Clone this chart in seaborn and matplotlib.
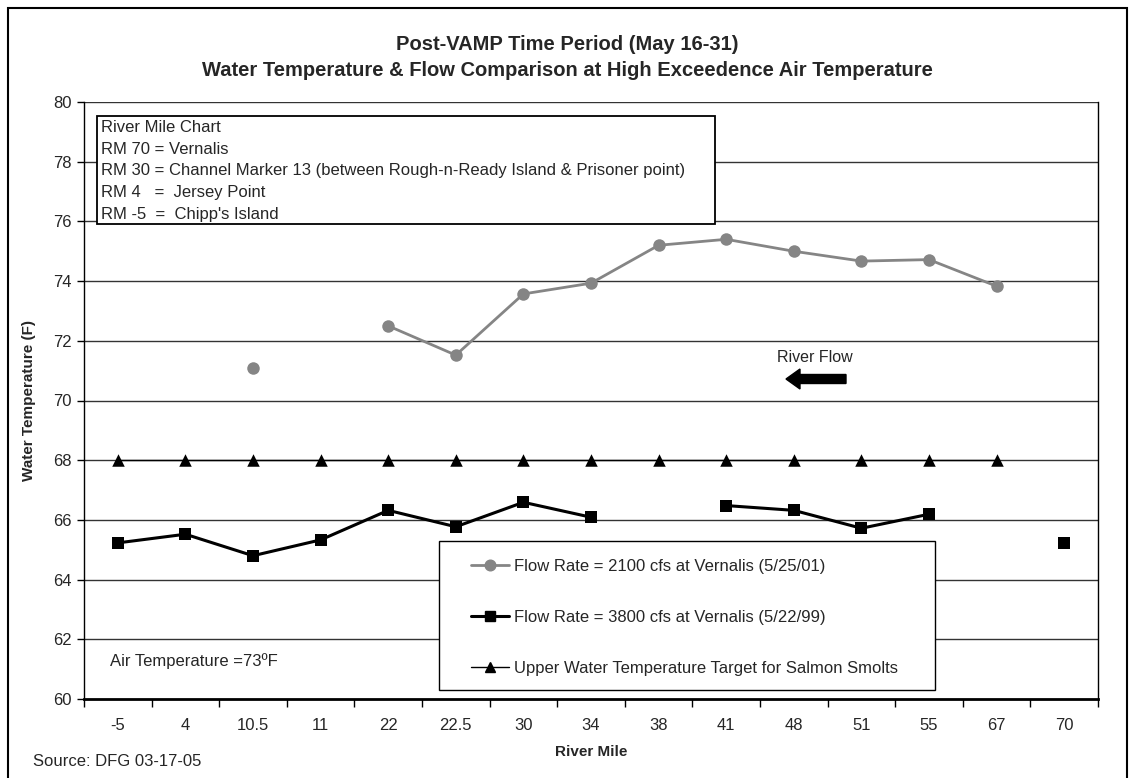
import numpy as np
import pandas as pd
import matplotlib
matplotlib.use("Agg")
import matplotlib.pyplot as plt
from matplotlib.lines import Line2D
from matplotlib.patches import Rectangle, FancyArrow
import seaborn as sns

sns.set_theme(style="white")
plt.rcParams['font.family'] = ['Liberation Sans', 'DejaVu Sans']

# ---- data ----
river_miles = ["-5", "4", "10.5", "11", "22", "22.5", "30", "34", "38", "41", "48", "51", "55", "67", "70"]
flow_2100 = [np.nan, np.nan, 71.08, np.nan, 72.5, 71.52, 73.57, 73.93, 75.2, 75.4, 75.0, 74.67, 74.72, 73.83, np.nan]
flow_3800 = [65.23, 65.52, 64.8, 65.33, 66.32, 65.77, 66.59, 66.09, np.nan, 66.48, 66.32, 65.72, 66.19, np.nan, 65.22]
target = [68, 68, 68, 68, 68, 68, 68, 68, 68, 68, 68, 68, 68, 68, np.nan]

series_labels = ["Flow Rate = 2100 cfs at Vernalis (5/25/01)",
                 "Flow Rate = 3800 cfs at Vernalis (5/22/99)",
                 "Upper Water Temperature Target for Salmon Smolts"]
yticks = [60, 62, 64, 66, 68, 70, 72, 74, 76, 78, 80]

rm_lines = ["River Mile Chart",
            "RM 70 = Vernalis",
            "RM 30 = Channel Marker 13 (between Rough-n-Ready Island & Prisoner point)",
            "RM 4   =  Jersey Point",
            "RM -5  =  Chipp's Island"]

W, H = 1135, 778


def fx(px):
    return px / W


def fy(py):
    return 1 - py / H


def to_frame(values):
    df = pd.DataFrame({"x": np.arange(len(values)), "y": values})
    df["seg"] = df["y"].isna().cumsum()
    return df.dropna()


fig = plt.figure(figsize=(W / 100, H / 100), dpi=100)
ax = fig.add_axes([fx(84), fy(699), (1098 - 84) / W, (699 - 102) / H])

styles = [
    dict(color="#858585", marker="o", ms=9, lw=2.0),
    dict(color="black", marker="s", ms=9.2, lw=2.2),
    dict(color="black", marker="^", ms=9, lw=1.0),
]

for vals, st in zip([flow_2100, flow_3800, target], styles):
    df = to_frame(vals)
    sns.lineplot(data=df, x="x", y="y", units="seg", estimator=None,
                 color=st["color"], lw=st["lw"], ax=ax, legend=False, zorder=3)
    sns.scatterplot(data=df, x="x", y="y", color=st["color"], marker=st["marker"],
                    s=st["ms"] ** 2, edgecolor=st["color"], linewidth=0, ax=ax,
                    legend=False, zorder=4)

n = len(river_miles)
ax.set_xlim(-0.5, n - 0.5)
ax.set_ylim(60, 80)
ax.set_yticks(yticks)
ax.set_yticklabels([str(v) for v in yticks], fontsize=12)
ax.set_xticks(np.arange(n))
ax.set_xticklabels(river_miles, fontsize=12)
ax.set_xticks(np.arange(n + 1) - 0.5, minor=True)
ax.tick_params(axis="x", which="major", length=0, pad=14)
ax.tick_params(axis="x", which="minor", length=6, width=1, color="black", direction="out", bottom=True)
ax.tick_params(axis="y", which="major", length=5, width=1, color="black", direction="out", left=True, pad=4)

for v in yticks[1:]:
    ax.axhline(v, color="#333333", lw=1.0, zorder=1)

for side in ["left", "bottom", "right"]:
    ax.spines[side].set_visible(True)
    ax.spines[side].set_color("black")
ax.spines["left"].set_linewidth(1.0)
ax.spines["bottom"].set_linewidth(2.0)
ax.spines["right"].set_linewidth(1.0)
ax.spines["top"].set_visible(False)

ax.set_xlabel("River Mile", fontsize=11, fontweight="bold", labelpad=8)
ax.set_ylabel("Water Temperature (F)", fontsize=11, fontweight="bold", labelpad=12)

fig.text(0.5, fy(45), "Post-VAMP Time Period (May 16-31)", ha="center", va="center",
         fontsize=14.5, fontweight="bold")
fig.text(0.5, fy(70), "Water Temperature & Flow Comparison at High Exceedence Air Temperature",
         ha="center", va="center", fontsize=14.5, fontweight="bold")

# river mile text box
fig.patches.append(Rectangle((fx(97), fy(224)), (715 - 97) / W, (224 - 116) / H,
                             transform=fig.transFigure, facecolor="white", edgecolor="black",
                             lw=1.3, zorder=5))
for i, t in enumerate(rm_lines):
    fig.text(fx(101), fy(128 + i * 21.5), t, ha="left", va="center", fontsize=12, zorder=6)

# legend (frame drawn separately)
fig.patches.append(Rectangle((fx(439), fy(690)), (935 - 439) / W, (690 - 541) / H,
                             transform=fig.transFigure, facecolor="white", edgecolor="black",
                             lw=1.0, zorder=5))
handles = [Line2D([0], [0], color=st["color"], marker=st["marker"], ms=st["ms"] * 0.85,
                  lw=st["lw"]) for st in styles]
leg = fig.legend(handles, series_labels, loc="upper left",
                 bbox_to_anchor=(fx(471), fy(559)), bbox_transform=fig.transFigure,
                 frameon=False, fontsize=12,
                 handlelength=2.3, handletextpad=0.25, labelspacing=2.15,
                 borderpad=0, borderaxespad=0)
leg.set_zorder(10)

# annotations
fig.text(fx(110), fy(661), "Air Temperature =73ºF", ha="left", va="center", fontsize=12)
fig.text(fx(815), fy(357), "River Flow", ha="center", va="center", fontsize=11.5)
fig.patches.append(FancyArrow(fx(846), fy(379), -(846 - 786) / W, 0,
                              width=9 / H, head_width=20 / H, head_length=14 / W,
                              length_includes_head=True, transform=fig.transFigure,
                              color="black", zorder=6))
fig.text(fx(33), fy(762), "Source: DFG 03-17-05", ha="left", va="center", fontsize=12)

# outer frame
fig.patches.append(Rectangle((fx(8), -0.01), (1127 - 8) / W, 1 - 8 / H + 0.01,
                             transform=fig.transFigure, facecolor="none", edgecolor="black",
                             lw=1.5, zorder=0))

fig.savefig("out.png", dpi=100)
